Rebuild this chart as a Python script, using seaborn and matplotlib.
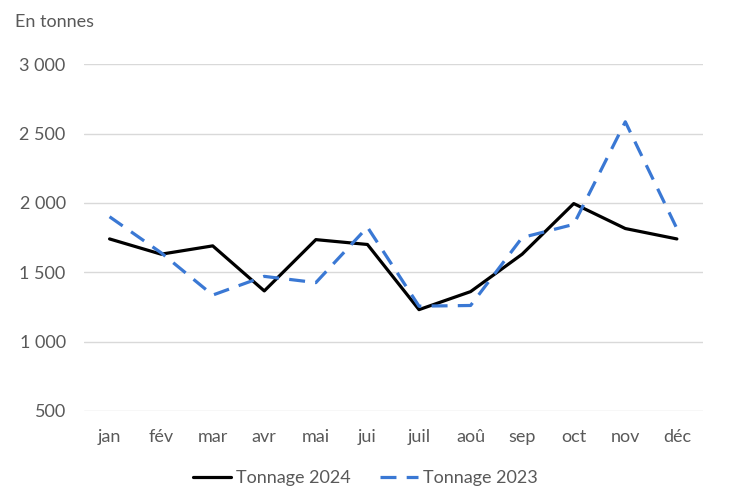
import matplotlib
matplotlib.use("Agg")
import matplotlib.pyplot as plt
import pandas as pd
import seaborn as sns

MONTHS = ["jan", "fév", "mar", "avr", "mai", "jui",
          "juil", "aoû", "sep", "oct", "nov", "déc"]
TONNAGE_2024 = [1740, 1630, 1690, 1365, 1735, 1700,
                1230, 1360, 1630, 1995, 1815, 1740]
TONNAGE_2023 = [1900, 1640, 1335, 1470, 1425, 1825,
                1255, 1260, 1750, 1845, 2585, 1815]
Y_TICKS = [500, 1000, 1500, 2000, 2500, 3000]

TEXT_GREY = "#595959"
FS = 13

sns.set_theme(style="white")
plt.rcParams["font.family"] = ["Lato", "DejaVu Sans"]

df = pd.DataFrame({
    "mois": MONTHS * 2,
    "x": list(range(len(MONTHS))) * 2,
    "tonnage": TONNAGE_2024 + TONNAGE_2023,
    "serie": ["Tonnage 2024"] * 12 + ["Tonnage 2023"] * 12,
})

fig = plt.figure(figsize=(7.35, 4.98), dpi=100)
ax = fig.add_axes([0.114, 0.175, 0.842, 0.696])

sns.lineplot(
    data=df, x="x", y="tonnage", hue="serie", style="serie",
    palette={"Tonnage 2024": "black", "Tonnage 2023": "#3a78d4"},
    dashes={"Tonnage 2024": "", "Tonnage 2023": (5.0, 3.2)},
    linewidth=2.3, ax=ax, legend=True, sort=False,
)

ax.set_xlim(-0.5, len(MONTHS) - 0.5)
ax.set_ylim(500, 3000)
ax.set_yticks(Y_TICKS)
ax.set_yticklabels([f"{v:,}".replace(",", " ") for v in Y_TICKS])
ax.set_xticks(range(len(MONTHS)))
ax.set_xticklabels(MONTHS)
ax.tick_params(axis="both", length=0, labelsize=FS, colors=TEXT_GREY)
ax.tick_params(axis="y", pad=13)
ax.tick_params(axis="x", pad=13)
ax.set_xlabel("")
ax.set_ylabel("")
ax.grid(axis="y", color="#d9d9d9", linewidth=1)
for s in ax.spines.values():
    s.set_visible(False)

fig.text(0.02, 0.955, "En tonnes", fontsize=FS, color=TEXT_GREY,
         ha="left", va="center")

handles, labels = ax.get_legend_handles_labels()
ax.legend(handles, labels, loc="center", bbox_to_anchor=(0.455, -0.195),
          ncol=2, frameon=False, fontsize=FS, handlelength=2.1,
          handletextpad=0.3, columnspacing=1.6, labelcolor=TEXT_GREY)

fig.savefig("out.png", dpi=100)
